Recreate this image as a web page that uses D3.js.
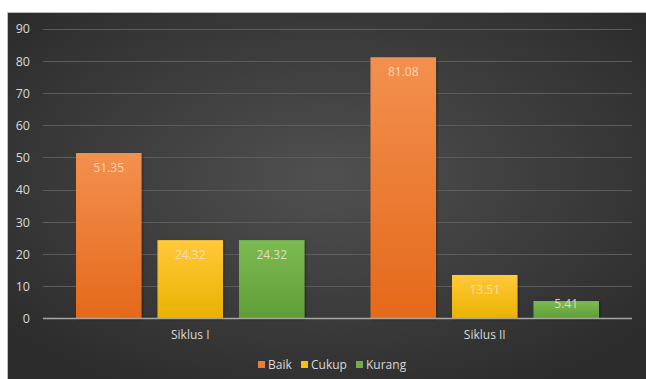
<!DOCTYPE html>
<html>
<head>
<meta charset="utf-8">
<script src="https://cdn.jsdelivr.net/npm/d3@7/dist/d3.min.js"></script>
<style>
  html, body { margin: 0; padding: 0; background: #ffffff; }
  svg { display: block; }
  text { font-family: "Open Sans", "Noto Sans", sans-serif; }
</style>
</head>
<body>
<svg id="chart" width="646" height="379"></svg>
<script>
// Chart data
const categories = ["Siklus I", "Siklus II"];
const seriesNames = ["Baik", "Cukup", "Kurang"];
const baik = [51.35, 81.08];
const cukup = [24.32, 13.51];
const kurang = [24.32, 5.41];
const yTicks = [0, 10, 20, 30, 40, 50, 60, 70, 80, 90];

const seriesValues = [baik, cukup, kurang];
const colors = {
  Baik:   { top: "#f3904f", bottom: "#e4691a", key: "#ed7d31" },
  Cukup:  { top: "#ffc93a", bottom: "#eab200", key: "#ffc000" },
  Kurang: { top: "#7cbb52", bottom: "#5f9d37", key: "#70ad47" }
};

const W = 646, H = 379;
const svg = d3.select("#chart");
const defs = svg.append("defs");

// Background panel
const bg = defs.append("radialGradient").attr("id", "bg")
  .attr("cx", "50%").attr("cy", "45%").attr("r", "65%");
bg.append("stop").attr("offset", "0%").attr("stop-color", "#505050");
bg.append("stop").attr("offset", "100%").attr("stop-color", "#2c2c2c");

seriesNames.forEach(n => {
  const g = defs.append("linearGradient").attr("id", "g-" + n)
    .attr("x1", 0).attr("y1", 0).attr("x2", 0).attr("y2", 1);
  g.append("stop").attr("offset", "0%").attr("stop-color", colors[n].top);
  g.append("stop").attr("offset", "100%").attr("stop-color", colors[n].bottom);
});

const shadow = defs.append("filter").attr("id", "shadow")
  .attr("x", "-10%").attr("y", "-10%").attr("width", "130%").attr("height", "130%");
shadow.append("feDropShadow").attr("dx", 1).attr("dy", 1).attr("stdDeviation", 1.2)
  .attr("flood-color", "#000").attr("flood-opacity", 0.45);

svg.append("rect").attr("x", 7).attr("y", 12).attr("width", W - 7).attr("height", H - 12)
  .attr("fill", "url(#bg)");
svg.append("line").attr("x1", 7.5).attr("x2", 7.5).attr("y1", 12).attr("y2", H)
  .attr("stroke", "#bfbfbf").attr("stroke-width", 1);
svg.append("line").attr("x1", 7).attr("x2", W).attr("y1", 12.5).attr("y2", 12.5)
  .attr("stroke", "#bfbfbf").attr("stroke-width", 1);

const plot = { left: 43, right: 632, top: 28.5, bottom: 318.5 };

const y = d3.scaleLinear().domain([0, 90]).range([plot.bottom, plot.top]);
const x0 = d3.scaleBand().domain(categories).range([plot.left, plot.right])
  .paddingInner(0).paddingOuter(0);
const x1 = d3.scaleBand().domain(seriesNames).range([33, x0.bandwidth() - 33])
  .paddingInner(0.196).paddingOuter(0);

// Gridlines
svg.append("g").selectAll("line").data(yTicks.filter(t => t > 0)).join("line")
  .attr("x1", plot.left).attr("x2", plot.right)
  .attr("y1", d => Math.round(y(d)) + 0.5).attr("y2", d => Math.round(y(d)) + 0.5)
  .attr("stroke", "#5c5c5c").attr("stroke-width", 1);

// Y axis labels
const yAxis = d3.axisLeft(y).tickValues(yTicks).tickSize(0).tickPadding(0);
const yg = svg.append("g").attr("transform", `translate(30,0)`).call(yAxis);
yg.select(".domain").remove();
yg.selectAll("text").attr("fill", "#d9d9d9").attr("font-size", 12.5)
  .attr("text-anchor", "end").attr("dy", "0.35em");

// Bars
const rows = categories.map((c, i) => ({
  cat: c,
  vals: seriesNames.map((n, j) => ({ name: n, value: seriesValues[j][i] }))
}));

const groups = svg.append("g").selectAll("g").data(rows).join("g")
  .attr("transform", d => `translate(${x0(d.cat)},0)`);

groups.selectAll("rect").data(d => d.vals).join("rect")
  .attr("x", d => x1(d.name))
  .attr("y", d => y(d.value))
  .attr("width", x1.bandwidth())
  .attr("height", d => y(0) - y(d.value))
  .attr("fill", d => `url(#g-${d.name})`)
  .attr("filter", "url(#shadow)");

// Value labels sit just inside the top of each bar; short bars pull them up
groups.selectAll("text.val").data(d => d.vals).join("text")
  .attr("class", "val")
  .attr("x", d => x1(d.name) + x1.bandwidth() / 2)
  .attr("y", d => {
    const h = y(0) - y(d.value);
    return y(d.value) + Math.min(15, h / 2 - 6);
  })
  .attr("dy", "0.35em")
  .attr("text-anchor", "middle")
  .attr("font-size", 12)
  .attr("fill", "#fbe3cf")
  .attr("fill-opacity", 0.85)
  .text(d => d.value.toFixed(2));

// Baseline
svg.append("line").attr("x1", plot.left).attr("x2", plot.right)
  .attr("y1", plot.bottom).attr("y2", plot.bottom)
  .attr("stroke", "#a6a6a6").attr("stroke-width", 1.6);

// Category labels
const xAxis = d3.axisBottom(x0).tickSize(0).tickPadding(0);
const xg = svg.append("g").attr("transform", `translate(0,${plot.bottom + 16})`).call(xAxis);
xg.select(".domain").remove();
xg.selectAll("text").attr("fill", "#d9d9d9").attr("font-size", 12).attr("dy", "0.35em");

// Legend
const legendItems = [
  { name: "Baik", x: 258 },
  { name: "Cukup", x: 301 },
  { name: "Kurang", x: 356 }
];
const lg = svg.append("g").selectAll("g").data(legendItems).join("g")
  .attr("transform", d => `translate(${d.x},365)`);
lg.append("rect").attr("x", 0).attr("y", -4).attr("width", 7).attr("height", 7)
  .attr("fill", d => colors[d.name].key);
lg.append("text").attr("x", 10).attr("y", 0).attr("dy", "0.35em")
  .attr("font-size", 12).attr("fill", "#d9d9d9").text(d => d.name);
</script>
</body>
</html>
